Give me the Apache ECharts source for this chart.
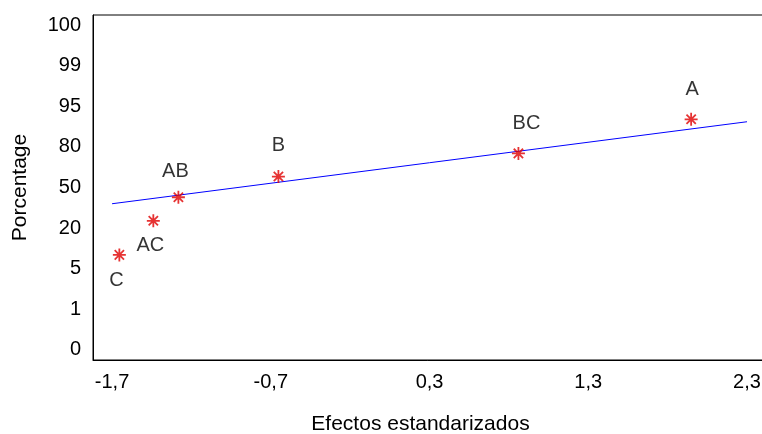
<!DOCTYPE html>
<html>
<head>
    <meta charset="utf-8">
    <title>Efectos estandarizados</title>
    <script src="https://cdn.jsdelivr.net/npm/echarts@6/dist/echarts.min.js"></script>
</head>
<body style="margin:0">
<div id="main" style="width: 762px;height:434px;"></div>
<script>
// etiquetas del eje de probabilidad (posiciones equiespaciadas)
var yTickLabels = ['0', '1', '5', '20', '50', '80', '95', '99', '100'];
var xTicks = [-1.7, -0.7, 0.3, 1.3, 2.3];

// efectos
var effectNames = ['C', 'AC', 'AB', 'B', 'BC', 'A'];
var effectX = [-1.654, -1.44, -1.282, -0.652, 0.86, 1.948];
var effectY = [2.34, 3.18, 3.76, 4.27, 4.84, 5.68];

// recta de referencia
var lineX = [-1.7, 2.3];
var lineY = [3.60, 5.62];

var labelPlace = {
    C: {position: 'bottom', offset: [-3, 3]},
    AC: {position: 'bottom', offset: [-3, 2]},
    AB: {position: 'top', offset: [-3, -3]},
    B: {position: 'top', offset: [0, -9]},
    BC: {position: 'top', offset: [8, -8]},
    A: {position: 'top', offset: [1, -7]}
};

var font = 'Liberation Sans, Arial, sans-serif';

var pts = effectNames.map(function (n, i) {
    return {
        name: n,
        value: [effectX[i], effectY[i]],
        label: labelPlace[n]
    };
});

var option = {
    animation: false,
    grid: {
        left: 93, top: 15, right: -2, bottom: 74,
        outerBoundsMode: 'none',
        containLabel: false,
        show: true, borderColor: '#000', borderWidth: 1
    },
    xAxis: {
        type: 'value',
        min: -1.82, max: 2.407,
        name: 'Efectos estandarizados',
        nameLocation: 'middle',
        nameGap: 54,
        nameTextStyle: {fontFamily: font, fontSize: 21, color: '#000', padding: [0, 16, 0, 0]},
        splitLine: {show: false},
        axisTick: {show: false},
        axisLine: {onZero: false, lineStyle: {color: '#000'}},
        axisLabel: {
            customValues: xTicks,
            margin: 12,
            fontFamily: font, fontSize: 20, color: '#000',
            formatter: function (v) { return v.toFixed(1).replace('.', ','); }
        }
    },
    yAxis: {
        type: 'value',
        min: -0.25, max: 8.25,
        name: 'Porcentage',
        nameLocation: 'middle',
        nameGap: 62,
        nameTextStyle: {fontFamily: font, fontSize: 21, color: '#000'},
        splitLine: {show: false},
        axisTick: {show: false},
        axisLine: {onZero: false, lineStyle: {color: '#000'}},
        axisLabel: {
            customValues: [0, 1, 2, 3, 4, 5, 6, 7, 8],
            margin: 12,
            padding: [5, 0, 0, 0],
            fontFamily: font, fontSize: 20, color: '#000',
            formatter: function (v) { return yTickLabels[Math.round(v)]; }
        }
    },
    series: [
        {
            type: 'line',
            data: lineX.map(function (x, i) { return [x, lineY[i]]; }),
            showSymbol: false,
            lineStyle: {color: '#0000ff', width: 1},
            silent: true,
            z: 2
        },
        {
            type: 'scatter',
            data: pts,
            symbol: 'path://M0,-6L0,6M-6,0L6,0M-4.3,-4.3L4.3,4.3M-4.3,4.3L4.3,-4.3',
            symbolSize: 13,
            itemStyle: {color: 'rgba(0,0,0,0)', borderColor: '#e00000', borderWidth: 1.8},
            label: {
                show: true,
                formatter: '{b}',
                fontFamily: font, fontSize: 20, color: '#000'
            },
            z: 3
        }
    ]
};

var myChart = echarts.init(document.getElementById('main'));
myChart.setOption(option);
</script>
</body>
</html>
